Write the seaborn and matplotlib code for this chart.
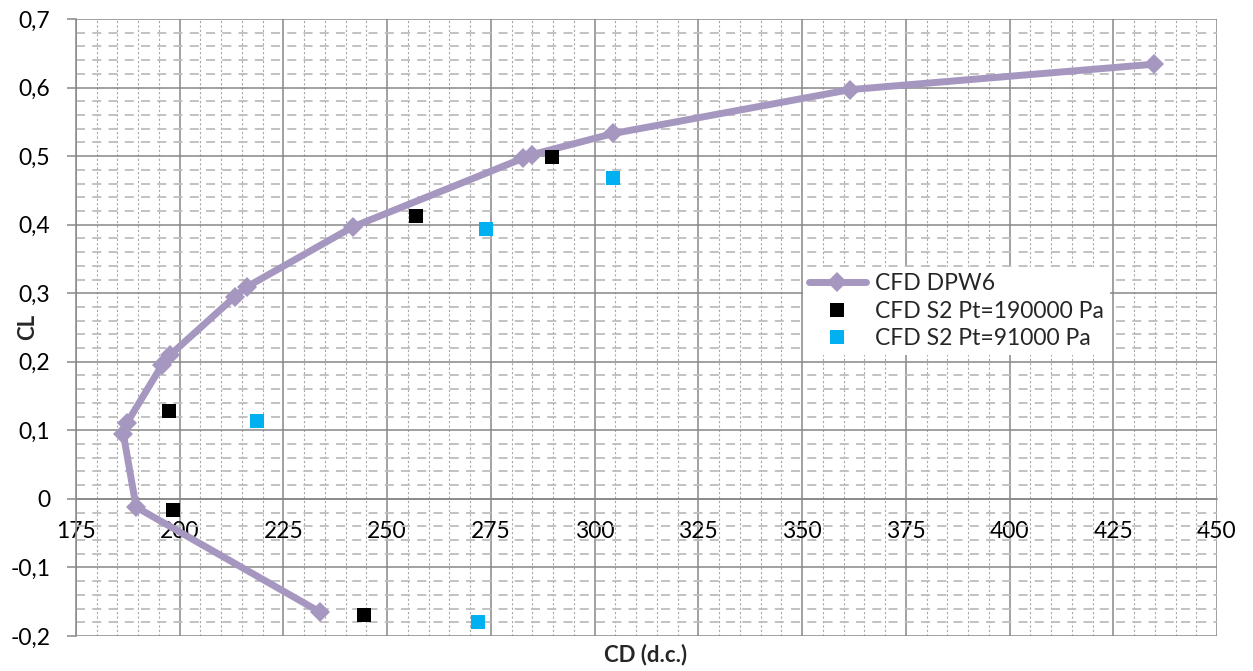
import matplotlib
matplotlib.use('Agg')
import matplotlib.pyplot as plt
import seaborn as sns
import pandas as pd
from matplotlib.ticker import MultipleLocator, FuncFormatter
from matplotlib.lines import Line2D

# ---- data ----
dpw6_cd = [233.8, 189.5, 186.4, 187.2, 195.7, 197.7, 213.3, 216.1, 241.8, 282.8, 284.8, 304.5, 361.6, 434.7]
dpw6_cl = [-0.165, -0.012, 0.095, 0.110, 0.195, 0.210, 0.295, 0.309, 0.397, 0.497, 0.502, 0.533, 0.597, 0.634]
s2_190_cd = [197.5, 198.3, 256.9, 289.7, 244.4]
s2_190_cl = [0.128, -0.016, 0.413, 0.498, -0.170]
s2_91_cd = [218.6, 273.8, 304.4, 271.8]
s2_91_cl = [0.114, 0.394, 0.468, -0.179]
series_labels = ["CFD DPW6", "CFD S2 Pt=190000 Pa", "CFD S2 Pt=91000 Pa"]
x_label = "CD (d.c.)"
y_label = "CL"

PURPLE = '#A597BF'
CYAN = '#00B0F0'
GRID = '#878787'
FS = 16.5

sns.set_theme(style='white')
plt.rcParams['font.family'] = ['Lato', 'DejaVu Sans']

W, H = 1253, 671
fig = plt.figure(figsize=(W / 100, H / 100), dpi=100)
ax = fig.add_axes([76 / W, 1 - 636 / H, (1217 - 76) / W, (636 - 19) / H])

df_line = pd.DataFrame({'cd': dpw6_cd, 'cl': dpw6_cl})
df_a = pd.DataFrame({'cd': s2_190_cd, 'cl': s2_190_cl})
df_b = pd.DataFrame({'cd': s2_91_cd, 'cl': s2_91_cl})

sns.lineplot(data=df_line, x='cd', y='cl', sort=False, estimator=None, ax=ax,
             color=PURPLE, lw=5, marker='D', markersize=10.5, markeredgewidth=0, zorder=3)
sns.scatterplot(data=df_a, x='cd', y='cl', ax=ax, color='black', marker='s', s=105,
                linewidth=0, zorder=4)
sns.scatterplot(data=df_b, x='cd', y='cl', ax=ax, color=CYAN, marker='s', s=105,
                linewidth=0, zorder=4)

ax.set_xlim(175, 450)
ax.set_ylim(-0.2, 0.7)
ax.xaxis.set_major_locator(MultipleLocator(25))
ax.xaxis.set_minor_locator(MultipleLocator(5))
ax.yaxis.set_major_locator(MultipleLocator(0.1))
ax.yaxis.set_minor_locator(MultipleLocator(0.02))

def yfmt(v, pos):
    if abs(v) < 1e-9:
        return '0'
    return f'{v:.1f}'.replace('.', ',')
ax.yaxis.set_major_formatter(FuncFormatter(yfmt))
ax.xaxis.set_major_formatter(FuncFormatter(lambda v, p: f'{v:.0f}'))

ax.set_axisbelow(True)
ax.grid(which='major', color=GRID, lw=1.1, ls='-')
ax.xaxis.grid(which='minor', color='#a8a8a8', lw=0.8, ls=(0, (2, 2)))
ax.yaxis.grid(which='minor', color='#bdbdbd', lw=1.3, ls=(0, (5, 4)))

for s in ['top', 'right']:
    ax.spines[s].set_visible(False)
ax.spines['left'].set_color(GRID)
ax.spines['left'].set_linewidth(1.1)
ax.spines['bottom'].set_position(('data', 0))
ax.spines['bottom'].set_color(GRID)
ax.spines['bottom'].set_linewidth(1.1)

ax.tick_params(axis='x', which='major', length=0, pad=16, labelsize=FS, labelcolor='black')
ax.tick_params(axis='x', which='minor', length=0)
ax.tick_params(axis='y', which='major', length=6.5, width=1.1, color=GRID, pad=12,
               labelsize=FS, labelcolor='black', left=True)
ax.tick_params(axis='y', which='minor', length=0)

ax.set_xlabel('')
ax.set_ylabel('')
fig.text(646 / W, 1 - 655 / H, x_label, ha='center', va='center', fontsize=16, fontweight='bold')
fig.text(28 / W, 1 - 327 / H, y_label, ha='center', va='center', fontsize=16, fontweight='bold',
         rotation=90)

handles = [
    Line2D([], [], color=PURPLE, lw=5, marker='D', markersize=10.5, markeredgewidth=0),
    Line2D([], [], ls='', color='black', marker='s', markersize=10, markeredgewidth=0),
    Line2D([], [], ls='', color=CYAN, marker='s', markersize=10, markeredgewidth=0),
]
leg = fig.legend(handles, series_labels, loc='upper left',
                 bbox_to_anchor=(803 / W, 1 - 267 / H), bbox_transform=fig.transFigure,
                 frameon=True, fancybox=False, framealpha=1, facecolor='white',
                 edgecolor='none', fontsize=FS, handlelength=2.5, handletextpad=0.4,
                 labelspacing=0.3, borderpad=0.25, borderaxespad=0)
leg.set_zorder(10)

fig.savefig('out.png', dpi=100)
